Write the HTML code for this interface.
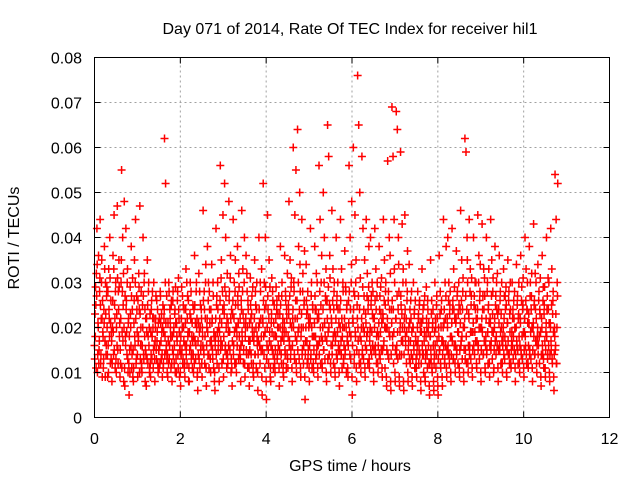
<!DOCTYPE html>
<html><head><meta charset="utf-8"><style>
html,body{margin:0;padding:0;background:#fff;}
svg{display:block;font-family:"Liberation Sans",sans-serif;}
</style></head><body>
<svg id="chart" width="640" height="480" viewBox="0 0 640 480" xmlns="http://www.w3.org/2000/svg">
<text x="350" y="34" font-size="16" text-anchor="middle">Day 071 of 2014, Rate Of TEC Index for receiver hil1</text>
<g id="grid"></g>
<g id="marks"></g>
<rect x="94.5" y="57.5" width="515" height="360" fill="none" stroke="#000" stroke-width="1"/>
<g id="ticks"></g>
<text x="350" y="471" font-size="16" text-anchor="middle">GPS time / hours</text>
<text x="19" y="238" font-size="16" text-anchor="middle" transform="rotate(-90 19 238)">ROTI / TECUs</text>
</svg>
<script>
const xTicks = [0,2,4,6,8,10,12];
const yTicks = [0,0.01,0.02,0.03,0.04,0.05,0.06,0.07,0.08];
const yTickLabels = ["0","0.01","0.02","0.03","0.04","0.05","0.06","0.07","0.08"];
const binWidthHours = 0.1;
// ROTI values (thousandths of TECU/min) per 0.1-hour bin, starting at 0.0 h
const rotiBins = [
[13,18,25,32,42,10,21,36],[15,28,44,12,22,35,9,19],[11,24,38,17,30,14,27,20],[9,16,33,22,40,12,26,19],
[8,20,36,14,45,25,11,30],[10,23,47,15,28,35,18,9],[12,30,55,19,40,25,8,48],[7,18,42,26,14,33,10,22],
[5,15,29,20,38,11,24,9],[8,21,35,16,44,12,27,19],[9,17,32,24,47,13,20,11],[10,25,40,14,30,18,8,22],
[7,19,35,12,28,16,10,23],[9,14,26,18,22,11,30,16],[8,20,27,13,17,24,10,15],[11,16,28,21,13,19,9,25],
[12,22,62,18,52,15,27,10],[9,17,30,13,24,20,11,26],[8,15,28,19,12,23,10,21],[10,18,26,14,31,22,9,16],
[7,14,29,20,12,25,17,11],[9,21,33,16,12,27,19,8],[8,15,30,22,13,18,11,25],[10,24,36,17,13,28,20,9],
[6,14,32,19,11,25,16,22],[9,18,46,15,28,12,22,34],[7,20,38,14,30,11,24,17],[10,16,34,22,13,27,19,8],
[6,18,42,25,12,30,15,20],[8,22,56,17,35,12,28,45],[9,25,52,15,40,20,11,32],[12,19,48,28,15,36,10,24],
[7,23,44,16,30,12,35,20],[10,18,38,25,13,29,15,22],[8,26,46,17,33,12,21,40],[9,20,36,14,28,11,24,17],
[7,15,31,22,12,27,18,10],[9,19,35,14,25,11,30,16],[6,17,40,21,12,28,15,33],[5,22,52,18,30,11,40,25],
[4,16,45,24,12,35,19,9],[8,21,31,15,26,11,18,13],[10,18,29,24,13,20,16,27],[7,23,38,17,12,30,20,10],
[9,19,36,14,26,11,22,32],[11,25,48,17,35,13,29,20],[8,22,60,30,14,45,18,55],[10,26,64,19,38,13,50,28],
[9,20,44,15,32,12,25,37],[4,17,34,23,12,28,15,20],[8,21,42,14,30,11,25,18],[10,18,38,24,13,32,16,22],
[9,23,56,17,44,12,30,36],[11,20,50,15,40,13,27,33],[8,26,65,19,58,14,36,24],[10,22,46,16,33,12,28,19],
[9,18,40,25,13,30,15,21],[7,24,44,17,33,11,20,28],[12,20,37,15,28,10,25,18],[9,26,56,19,40,13,30,48],
[5,22,60,28,14,45,18,35],[8,25,76,17,65,12,50,31],[10,20,58,15,42,13,27,35],[9,23,44,18,32,12,26,38],
[11,19,40,25,14,30,16,22],[8,22,42,16,33,12,27,19],[10,18,38,24,13,29,15,21],[9,23,44,17,35,11,28,20],
[7,20,57,26,13,40,18,32],[6,24,69,18,58,12,44,30],[8,22,68,16,64,13,40,28],[7,19,59,25,14,43,17,33],
[6,22,45,18,30,12,26,37],[8,17,34,21,12,26,14,19],[7,20,30,15,24,11,18,13],[9,16,28,22,12,25,14,19],
[6,19,33,14,24,10,17,27],[8,15,29,20,11,24,16,12],[5,18,35,13,26,10,21,16],[6,14,30,22,11,25,17,9],
[5,20,36,15,28,11,24,17],[7,17,44,21,12,30,16,38],[9,22,40,14,30,12,25,18],[8,18,42,24,13,33,16,22],
[10,21,37,15,28,12,19,25],[9,24,46,17,35,13,28,20],[8,20,62,15,59,12,40,30],[10,23,44,16,33,13,27,19],
[9,19,40,25,14,30,17,22],[11,22,45,16,36,13,28,20],[8,20,43,24,14,33,17,27],[10,18,40,15,30,12,25,21],
[9,22,44,17,35,13,28,19],[11,20,38,25,14,30,16,23],[8,24,36,15,28,12,20,17],[10,18,33,22,13,27,16,25],
[9,21,35,14,28,12,19,24],[11,17,30,22,13,26,15,20],[8,20,34,16,27,12,23,18],[10,22,36,14,29,13,25,19],
[9,19,40,16,33,12,24,21],[11,23,38,15,30,13,27,20],[8,20,43,25,14,32,17,22],[10,18,34,16,28,12,23,19],
[7,22,36,14,29,11,25,17],[9,19,40,24,13,31,16,21],[8,21,42,15,33,12,26,19],[6,20,54,16,44,12,30,52]
];
// Second set of ROTI samples (thousandths) per 0.1-hour bin — the dense core band
const rotiBinsCore = [
[16,23,29,11,27,34,14,20],[12,17,31,25,14,30,22,26],[18,13,21,33,9,23,16,29],[14,28,10,24,18,31,21,13],
[17,12,26,19,33,15,22,28],[13,20,16,31,12,24,29,21],[15,22,35,11,28,17,32,20],[11,27,16,24,19,30,13,21],
[12,18,10,23,16,27,14,31],[15,11,26,18,30,22,13,24],[14,26,18,29,10,23,16,28],[12,16,20,27,13,32,24,15],
[14,22,13,25,18,30,20,11],[12,19,24,13,28,20,15,22],[13,17,22,15,26,19,12,21],[15,22,12,27,17,23,14,20],
[11,19,24,14,30,21,16,13],[14,21,12,28,16,22,18,25],[12,18,26,14,20,16,24,29],[13,21,17,28,11,24,19,15],
[10,18,22,15,27,13,20,24],[12,16,24,14,30,22,18,26],[11,19,23,16,28,14,21,17],[14,18,12,25,21,16,30,22],
[10,17,21,13,28,20,15,24],[12,20,16,26,14,24,18,30],[11,16,22,19,26,14,28,21],[13,24,17,21,15,30,11,18],
[10,16,22,14,27,19,24,17],[11,19,26,15,31,21,16,24],[13,18,23,29,16,27,14,22],[14,21,16,26,19,31,22,13],
[11,17,26,14,22,19,28,25],[12,20,16,27,21,32,18,14],[13,16,24,19,28,23,15,30],[12,18,22,15,32,20,26,14],
[11,21,17,25,14,23,20,29],[12,17,22,14,28,20,24,18],[10,14,20,24,16,30,22,18],[9,15,21,26,14,24,19,29],
[8,13,20,27,15,22,17,29],[11,16,23,19,28,14,21,25],[12,15,22,18,26,14,23,20],[11,15,20,25,14,27,18,22],
[12,17,21,15,28,19,24,14],[13,18,23,16,27,21,15,31],[11,16,24,20,28,13,22,26],[12,17,22,15,30,20,24,34],
[11,18,23,14,28,20,16,26],[9,14,20,26,17,24,13,22],[11,16,22,13,27,20,18,24],[12,15,21,27,18,24,14,30],
[11,16,22,14,28,20,25,18],[12,17,24,15,30,21,18,26],[10,17,22,13,29,20,25,31],[12,16,21,14,26,18,24,30],
[11,17,22,14,27,19,24,16],[10,15,20,26,14,22,18,30],[13,16,22,14,29,20,24,17],[11,16,21,28,14,24,18,34],
[9,16,21,24,12,27,19,30],[11,15,22,20,27,14,24,18],[12,17,22,14,29,20,24,19],[11,16,21,15,27,19,24,29],
[13,17,20,15,27,19,23,28],[10,15,20,26,14,24,18,30],[12,16,21,14,27,19,23,31],[11,15,22,16,26,20,25,30],
[9,15,22,14,28,19,24,36],[8,14,21,26,16,24,19,33],[10,15,22,14,27,19,24,34],[9,14,21,27,17,23,20,30],
[8,14,20,24,16,22,19,28],[10,15,20,13,24,17,22,28],[9,13,20,16,23,11,26,17],[11,14,20,17,23,15,26,21],
[8,12,21,16,22,14,25,19],[9,13,18,22,14,26,19,21],[7,12,18,15,23,11,20,24],[8,12,19,16,20,14,27,22],
[7,13,18,15,23,12,20,26],[9,14,20,16,24,13,22,27],[11,15,20,16,26,14,23,28],[10,14,21,17,26,13,24,29],
[12,16,22,14,27,19,23,30],[11,15,21,16,26,18,24,31],[10,15,22,13,27,18,24,35],[12,16,22,14,28,19,25,31],
[11,15,21,16,27,19,24,30],[12,17,24,15,30,20,26,34],[10,15,22,19,27,14,24,31],[11,16,22,14,28,19,24,33],
[12,16,21,15,27,19,23,31],[10,15,22,17,27,18,24,32],[11,15,21,16,26,19,23,30],[12,16,20,14,27,18,24,29],
[10,15,21,17,26,14,23,30],[12,15,19,16,24,18,22,28],[11,14,20,17,25,15,22,30],[12,16,21,15,26,18,24,31],
[11,15,22,18,26,14,24,30],[12,16,21,14,27,19,24,32],[11,15,21,18,26,14,24,30],[12,16,20,14,26,18,24,31],
[9,14,20,16,26,13,23,29],[11,15,21,18,27,14,24,30],[10,14,20,17,25,13,23,28],[9,14,18,15,23,12,20,27]
];

const NS = "http://www.w3.org/2000/svg";
const X0 = 94.5, X1 = 609.5, Y0 = 417.5, Y1 = 57.5;
const xScale = h => X0 + (h / 12) * (X1 - X0);
const yScale = v => Y0 - (v / 0.08) * (Y0 - Y1);
const grid = document.getElementById('grid');
const ticks = document.getElementById('ticks');
const marks = document.getElementById('marks');
const svg = document.getElementById('chart');

function mk(tag, attrs, parent){ const e = document.createElementNS(NS, tag); for (const k in attrs) e.setAttribute(k, attrs[k]); parent.appendChild(e); return e; }

xTicks.forEach(t => {
  const x = xScale(t);
  if (t > 0 && t < 12) {
    const g = mk('line', {x1:x, x2:x, y1:Y0, y2:Y1, stroke:'#a0a0a0', 'stroke-dasharray':'2,3'}, grid);
    
    
  }
  const tk = mk('path', {d:`M${x} ${Y0}v-6M${x} ${Y1}v6`, stroke:'#000'}, ticks);
  
  
  const lb = mk('text', {x:x, y:444, 'font-size':16, 'text-anchor':'middle'}, svg);
  lb.textContent = String(t);
  
  
});
yTicks.forEach((t, i) => {
  const y = yScale(t);
  if (i > 0 && i < yTicks.length - 1) {
    const g = mk('line', {x1:X0, x2:X1, y1:y, y2:y, stroke:'#a0a0a0', 'stroke-dasharray':'2,3'}, grid);
    
    
  }
  const tk = mk('path', {d:`M${X0} ${y}h6M${X1} ${y}h-6`, stroke:'#000'}, ticks);
  
  
  const lb = mk('text', {x:82, y:y + 6, 'font-size':16, 'text-anchor':'end'}, svg);
  lb.textContent = yTickLabels[i];
  
  
});

function drawSet(bins, offset) {
  bins.forEach((vals, b) => {
    vals.forEach((v, j) => {
      const t = b * binWidthHours + ((j + offset) / vals.length) * binWidthHours;
      const x = xScale(t), y = yScale(v / 1000);
      const p = mk('path', {d:`M${x-4} ${y}h8M${x} ${y-4}v8`, stroke:'#ff0000', 'stroke-width':1.5, fill:'none'}, marks);
      
      
    });
  });
}
drawSet(rotiBinsCore, 0.0);
drawSet(rotiBins, 0.5);
</script>
</body></html>
